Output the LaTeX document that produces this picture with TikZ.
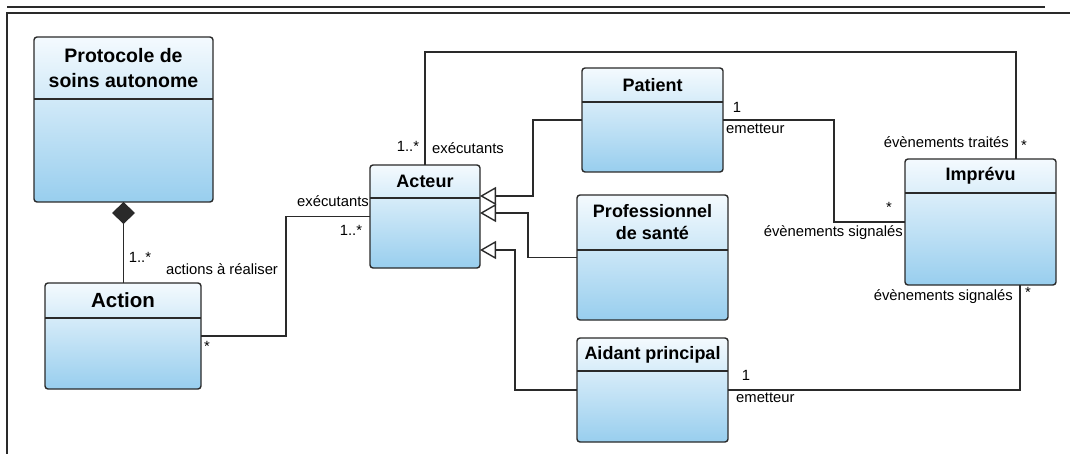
\documentclass[tikz,border=0pt]{standalone}
\usepackage{fontspec}
\setmainfont{Liberation Sans}
\usetikzlibrary{arrows.meta,calc,positioning}
\definecolor{umltop}{HTML}{F4FAFE}
\definecolor{umlbottom}{HTML}{98CEEE}
\definecolor{umlline}{HTML}{2A2A2A}

\begin{document}
\begin{tikzpicture}[x=1pt,y=-1pt,>=Latex,
  classbox/.style={rectangle,rounded corners=3pt,draw=umlline,line width=1.4pt,
    top color=umltop,bottom color=umlbottom,inner sep=0pt,outer sep=0pt},
  classname/.style={font=\bfseries\fontsize{18}{22}\selectfont,align=center,inner sep=0pt},
  divider/.style={draw=umlline,line width=1.2pt},
  role/.style={font=\fontsize{14.8}{16}\selectfont,inner sep=0pt,text height=10.5pt,text depth=3pt},
  assoc/.style={draw=umlline,line width=1.4pt},
  inherit/.style={assoc,-{Triangle[open,length=16pt,width=18pt]}}]

  \useasboundingbox (0,0) rectangle (1070,454);

  % page frame
  \draw[umlline,line width=1.3pt] (7,7) -- (1045,7);
  \draw[umlline,line width=1.3pt] (1070,13) -- (7,13) -- (7,454);

  % classes
  \node[classbox,minimum width=179pt,minimum height=165pt] (proto) at (123.5,119.5) {};
  \draw[divider] ($(proto.north west)+(0,62)$) -- ($(proto.north east)+(0,62)$);
  \node[classname,font=\bfseries\fontsize{19.5}{25}\selectfont] (protoname) at ($(proto.north)+(0,31)$) {Protocole de\\soins autonome};

  \node[classbox,minimum width=156pt,minimum height=106pt] (action) at (123,336) {};
  \draw[divider] ($(action.north west)+(0,35)$) -- ($(action.north east)+(0,35)$);
  \node[classname,font=\bfseries\fontsize{20.5}{24}\selectfont] (actionname) at ($(action.north)+(0,17.5)$) {Action};

  \node[classbox,minimum width=110pt,minimum height=103pt] (acteur) at (425,216.5) {};
  \draw[divider] ($(acteur.north west)+(0,33)$) -- ($(acteur.north east)+(0,33)$);
  \node[classname] (acteurname) at ($(acteur.north)+(0,16.5)$) {Acteur};

  \node[classbox,minimum width=141pt,minimum height=104pt] (patient) at (652.5,120) {};
  \draw[divider] ($(patient.north west)+(0,34)$) -- ($(patient.north east)+(0,34)$);
  \node[classname] (patientname) at ($(patient.north)+(0,17)$) {Patient};

  \node[classbox,minimum width=151pt,minimum height=125pt] (prof) at (652.5,257.5) {};
  \draw[divider] ($(prof.north west)+(0,55)$) -- ($(prof.north east)+(0,55)$);
  \node[classname] (profname) at ($(prof.north)+(0,27.5)$) {Professionnel\\de santé};

  \node[classbox,minimum width=151pt,minimum height=104pt] (aidant) at (652.5,390) {};
  \draw[divider] ($(aidant.north west)+(0,33)$) -- ($(aidant.north east)+(0,33)$);
  \node[classname] (aidantname) at ($(aidant.north)+(0,16.5)$) {Aidant principal};

  \node[classbox,minimum width=151pt,minimum height=126pt] (imprevu) at (980.5,222) {};
  \draw[divider] ($(imprevu.north west)+(0,34)$) -- ($(imprevu.north east)+(0,34)$);
  \node[classname] (imprevuname) at ($(imprevu.north)+(0,17)$) {Imprévu};

  % composition
  \draw[assoc,{Diamond[length=22pt,width=23pt]}-] (proto.south) -- (proto.south |- action.north);
  \node[role] (mactions) at (140,258.5) {1..*};
  \node[role] (ractions) at (222,271) {actions à réaliser};

  % action -- acteur
  \draw[assoc] (action.east) -- ++(85,0) |- (acteur.west);
  \node[role] (maction) at (207,348) {*};
  \node[role,anchor=east] (rexec) at (369,203) {exécutants};
  \node[role] (mexec) at (351,231.5) {1..*};

  % acteur -- imprevu (traites)
  \coordinate (topright) at (1016,52);
  \draw[assoc] (acteur.north) |- (topright) -- (topright |- imprevu.north);
  \node[role] (mexec2) at (408,147.5) {1..*};
  \node[role,anchor=west] (rexec2) at (432,150) {exécutants};
  \node[role,anchor=east] (rtraites) at (1009,144) {évènements traités};
  \node[role] (mtraites) at (1024,147) {*};

  % generalisations
  \draw[inherit] (patient.west) -| (533,196) -- (acteur.east |- 0,196);
  \draw[inherit] (prof.west) -| (528,213) -- (acteur.east |- 0,213);
  \draw[inherit] (aidant.west) -| (515,250) -- (acteur.east |- 0,250);

  % patient -- imprevu
  \draw[assoc] (patient.east) -| (834,222) -- (imprevu.west);
  \node[role] (mpatient) at (737,108.5) {1};
  \node[role,anchor=west] (rpatient) at (726,130) {emetteur};
  \node[role] (msignal) at (889,209) {*};
  \node[role,anchor=east] (rsignal) at (903,233) {évènements signalés};

  % aidant -- imprevu
  \draw[assoc] (aidant.east) -| (imprevu.south -| 1020,0);
  \node[role] (maidant) at (746,376.5) {1};
  \node[role,anchor=west] (raidant) at (736,399) {emetteur};
  \node[role,anchor=east] (rsignal2) at (1013,297) {évènements signalés};
  \node[role] (msignal2) at (1028,294) {*};
\end{tikzpicture}
\end{document}
